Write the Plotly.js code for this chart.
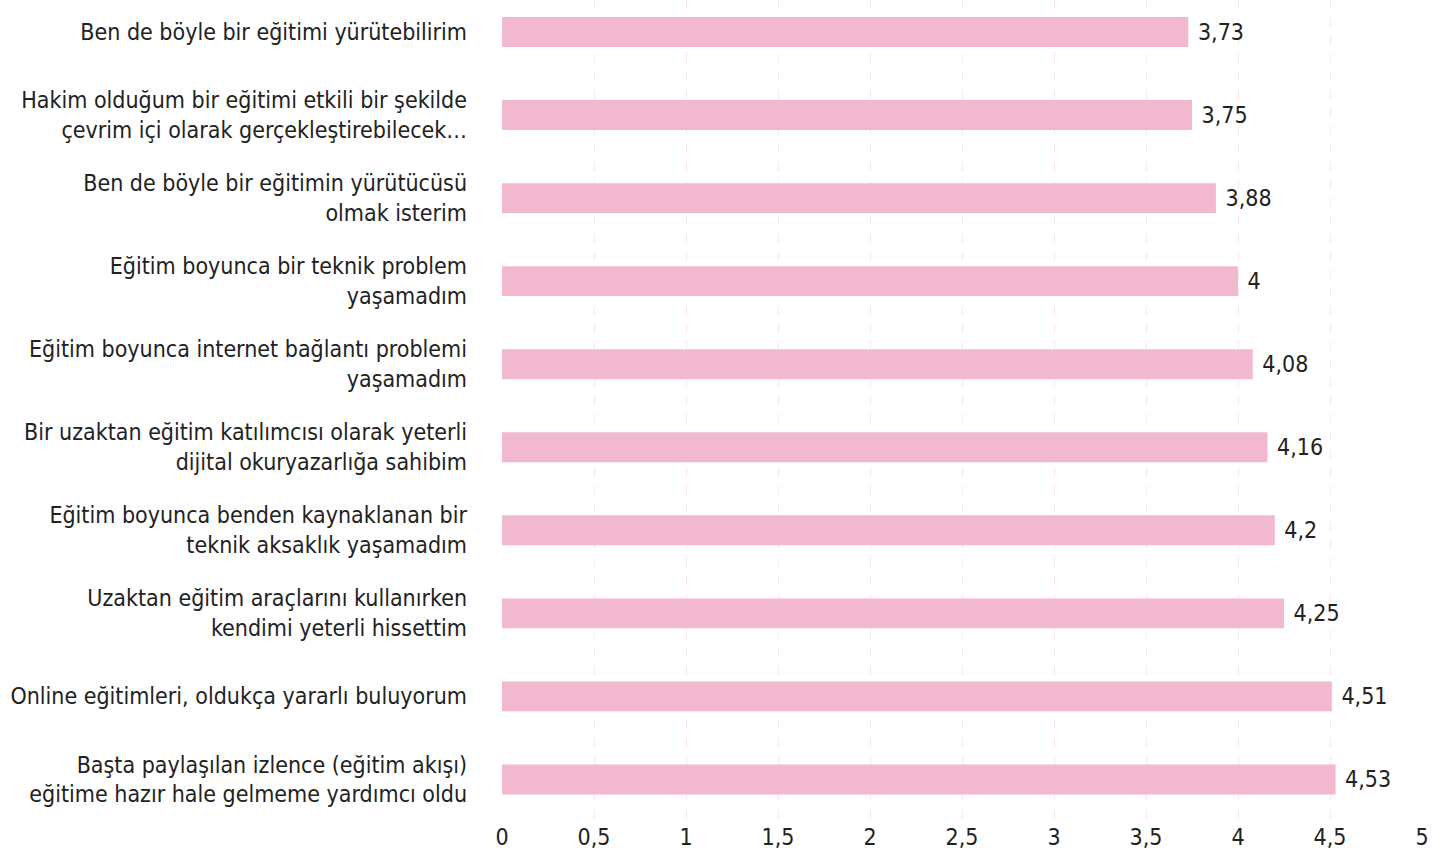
<!DOCTYPE html>
<html>
<head>
<meta charset="utf-8">
<script src="https://cdn.plot.ly/plotly-3.0.1.min.js"></script>
<style>
  html, body { margin: 0; padding: 0; background: #fff; }
  #chart { width: 1456px; height: 858px; }
</style>
</head>
<body>
<div id="chart"></div>
<script>
var statements = [
  'Ben de böyle bir eğitimi yürütebilirim',
  'Hakim olduğum bir eğitimi etkili bir şekilde<br>çevrim içi olarak gerçekleştirebilecek…',
  'Ben de böyle bir eğitimin yürütücüsü<br>olmak isterim',
  'Eğitim boyunca bir teknik problem<br>yaşamadım',
  'Eğitim boyunca internet bağlantı problemi<br>yaşamadım',
  'Bir uzaktan eğitim katılımcısı olarak yeterli<br>dijital okuryazarlığa sahibim',
  'Eğitim boyunca benden kaynaklanan bir<br>teknik aksaklık yaşamadım',
  'Uzaktan eğitim araçlarını kullanırken<br>kendimi yeterli hissettim',
  'Online eğitimleri, oldukça yararlı buluyorum',
  'Başta paylaşılan izlence (eğitim akışı)<br>eğitime hazır hale gelmeme yardımcı oldu'
];
var scores = [3.73, 3.75, 3.88, 4, 4.08, 4.16, 4.2, 4.25, 4.51, 4.53];

var fontFamily = '"DejaVu Sans Condensed", "Liberation Sans Narrow", Roboto, sans-serif';

var bars = {
  type: 'bar',
  orientation: 'h',
  x: scores,
  y: statements,
  marker: { color: 'rgb(242,184,208)' },
  texttemplate: ' %{x}',
  textposition: 'outside',
  cliponaxis: false,
  textfont: { family: fontFamily, size: 23, color: '#222' },
  hoverinfo: 'x+y'
};

var layout = {
  width: 1456,
  height: 858,
  margin: { l: 502, r: 34, t: 0, b: 37 },
  paper_bgcolor: '#fff',
  plot_bgcolor: '#fff',
  separators: ',.',
  bargap: 0.64,
  showlegend: false,
  font: { family: fontFamily, size: 23, color: '#222' },
  xaxis: {
    range: [0, 5],
    dtick: 0.5,
    tick0: 0,
    showgrid: true,
    gridcolor: 'rgb(252,230,238)',
    griddash: 'dash',
    gridwidth: 1,
    zeroline: false,
    showline: false,
    ticks: '',
    tickfont: { family: fontFamily, size: 23, color: '#222' }
  },
  yaxis: {
    type: 'category',
    range: [9.5, -0.385],
    showgrid: false,
    zeroline: false,
    showline: false,
    ticks: '',
    ticklabelstandoff: 34,
    tickfont: { family: fontFamily, size: 23, color: '#222' }
  }
};

Plotly.newPlot('chart', [bars], layout, { displayModeBar: false, staticPlot: true });
</script>
</body>
</html>
